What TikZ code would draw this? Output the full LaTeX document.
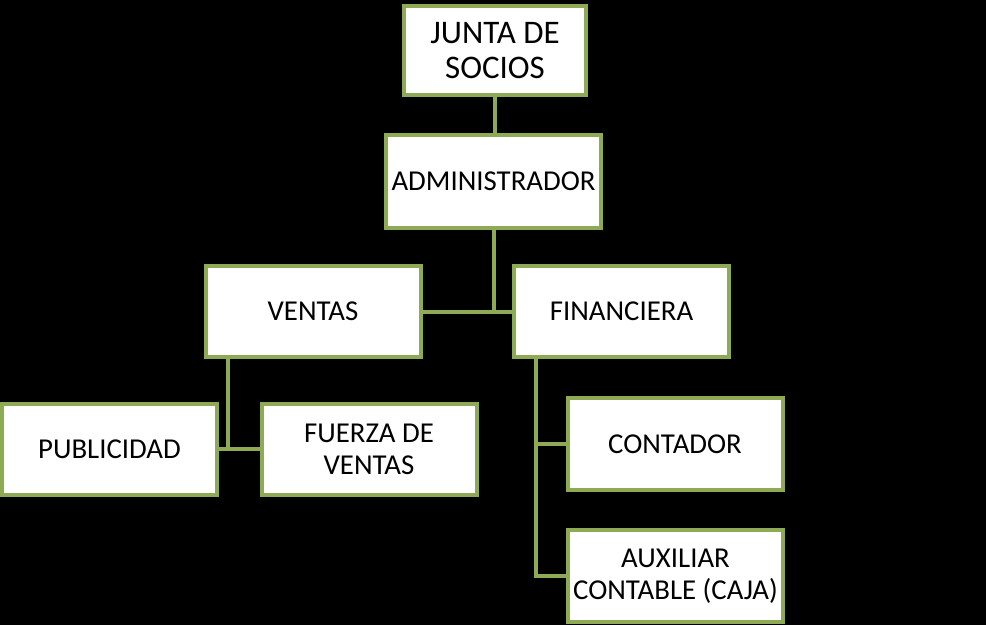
\documentclass[tikz,border=0pt]{standalone}
\usepackage{fontspec}
\setmainfont{Carlito}
\usepackage{tikz}
\usetikzlibrary{calc}
\definecolor{olive}{RGB}{143,170,84}

\begin{document}
\begin{tikzpicture}[
    x=0.75pt, y=-0.75pt,
    box/.style={
        draw=olive,
        fill=white,
        line width=3pt,
        align=center,
        inner sep=2pt,
        minimum width=215*0.75pt,
        minimum height=91*0.75pt,
        font=\fontsize{21.6}{24}\selectfont
    },
    link/.style={
        draw=olive,
        line width=3pt
    }
]

\useasboundingbox[fill=black] (0,0) rectangle (986,625);

% =========================
% Direccion
% =========================
\node[box, minimum width=182*0.75pt, minimum height=89*0.75pt,
    font=\fontsize{24.7}{26.5}\selectfont] (junta) at (495,50.5) {JUNTA DE\\SOCIOS};

\node[box, minimum height=93*0.75pt] (admin) at (493.5,181.5) {ADMINISTRADOR};

% =========================
% Areas
% =========================
\node[box] (ventas) at (313,311.5) {VENTAS};

\node[box] (financiera) at (621.5,311.5) {FINANCIERA};

% =========================
% Dependencias
% =========================
\node[box] (publicidad) at (109.5,449) {PUBLICIDAD};

\node[box] (fuerza) at (369,449) {FUERZA DE\\VENTAS};

\node[box, minimum height=92*0.75pt] (contador) at (675,444) {CONTADOR};

\node[box, minimum height=92*0.75pt] (auxiliar) at (675.5,576) {AUXILIAR\\CONTABLE (CAJA)};

% =========================
% Conexiones
% =========================
\coordinate (vbus) at (228,449);
\coordinate (fbus) at (536,444);

\draw[link] (junta.south) -- (junta.south |- admin.north);

\draw[link] (ventas.east) -- (financiera.west);
\draw[link] (admin.south) -- (admin.south |- ventas.east);

\draw[link] (publicidad.east) -- (fuerza.west);
\draw[link] (ventas.south -| vbus) -- (vbus);

\draw[link] (financiera.south -| fbus) |- (auxiliar.west);
\draw[link] (fbus) -- (contador.west);

\end{tikzpicture}
\end{document}
